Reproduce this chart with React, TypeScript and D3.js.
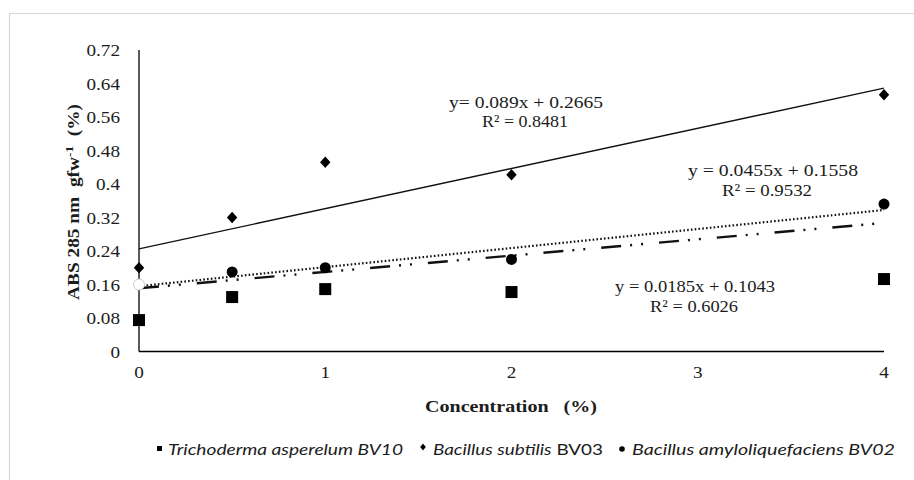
import React from "react";
import * as d3 from "d3";

const concentrations = [0, 0.5, 1, 2, 4];
const trichoderma = [0.075, 0.13, 0.149, 0.142, 0.173];
const subtilis = [0.2, 0.32, 0.452, 0.422, 0.613];
const amylo = [0.16, 0.19, 0.2, 0.22, 0.352];
const yTicks = [0, 0.08, 0.16, 0.24, 0.32, 0.4, 0.48, 0.56, 0.64, 0.72];
const xTicks = [0, 1, 2, 3, 4];
// trend lines as drawn: [value at x=0, value at x=4]
const trendSolid = [0.245, 0.629];
const trendDotted = [0.156, 0.338];
const trendDashDot = [0.151, 0.307];
const eqSubtilis = ["y= 0.089x + 0.2665", "R² = 0.8481"];
const eqAmylo = ["y = 0.0455x + 0.1558", "R² = 0.9532"];
const eqTricho = ["y = 0.0185x + 0.1043", "R² = 0.6026"];

const W = 914;
const H = 480;
const TXT = "#1c1c1c";
const SERIF = "'Liberation Serif', 'Times New Roman', serif";

const diamondPath = (w: number, h: number) =>
  `M0,${-h} L${w},0 L0,${h} L${-w},0Z`;

export default function App() {
  const x = d3.scaleLinear().domain([0, 4]).range([139, 884]);
  const y = d3.scaleLinear().domain([0, 0.72]).range([351.5, 50]);
  const line = d3
    .line<[number, number]>()
    .x((d) => x(d[0]))
    .y((d) => y(d[1]));
  const trend = (t: number[]) => line([[0, t[0]], [4, t[1]]]) || "";

  return (
    <svg
      width={W}
      height={H}
      style={{ position: "absolute", left: 0, top: 0, background: "#fff" }}
    >
      <rect x={9.5} y={13.5} width={W} height={H} fill="#fff" stroke="#d9d9d9" strokeWidth={1.2} />

      {/* axes */}
      <line x1={x(0)} x2={x(0)} y1={y(0.72)} y2={y(0)} stroke="#000" strokeWidth={1.3} />
      <line x1={x(0)} x2={x(4)} y1={y(0)} y2={y(0)} stroke="#000" strokeWidth={1.3} />

      {yTicks.map((t) => (
        <text
          key={t}
          transform={`translate(120,${y(t) + 6}) scale(1.13,1)`}
          textAnchor="end"
          fontFamily={SERIF}
          fontSize={17}
          fill={TXT}
        >
          {String(t)}
        </text>
      ))}
      {xTicks.map((t) => (
        <text
          key={t}
          transform={`translate(${x(t)},${378}) scale(1.13,1)`}
          textAnchor="middle"
          fontFamily={SERIF}
          fontSize={17}
          fill={TXT}
        >
          {String(t)}
        </text>
      ))}

      {/* axis titles */}
      <text
        x={511}
        y={412}
        textAnchor="middle"
        fontFamily={SERIF}
        fontSize={17}
        fontWeight="bold"
        fill={TXT}
        textLength={172}
        lengthAdjust="spacingAndGlyphs"
        style={{ whiteSpace: "pre" }}
      >
        {"Concentration   (%)"}
      </text>
      <text
        transform="translate(79,202) rotate(-90)"
        textAnchor="middle"
        fontFamily={SERIF}
        fontSize={16}
        fontWeight="bold"
        fill={TXT}
        textLength={196}
        lengthAdjust="spacingAndGlyphs"
        style={{ whiteSpace: "pre" }}
      >
        {"ABS 285 nm  gfw"}
        <tspan dy={-6} fontSize={11}>-1</tspan>
        <tspan dy={6}>{"  (%)"}</tspan>
      </text>

      {/* trend lines */}
      <path d={trend(trendSolid)} fill="none" stroke="#111" strokeWidth={1.4} />
      <path d={trend(trendDashDot)} fill="none" stroke="#111" strokeWidth={2.4} strokeDasharray="20 9 2 9 2 16" />
      <path d={trend(trendDotted)} fill="none" stroke="#111" strokeWidth={2.2} strokeDasharray="1.6 2.2" />

      {/* markers */}
      {concentrations.map((c, i) => (
        <rect
          key={"s" + i}
          x={x(c) - 6}
          y={y(trichoderma[i]) - 6}
          width={12}
          height={12}
          fill="#000"
        />
      ))}
      {concentrations.map((c, i) => (
        <path
          key={"d" + i}
          d={diamondPath(5.2, 5.8)}
          transform={`translate(${x(c)},${y(subtilis[i])})`}
          fill="#000"
        />
      ))}
      {concentrations.map((c, i) => (
        <circle
          key={"c" + i}
          cx={x(c)}
          cy={y(amylo[i])}
          r={5.5}
          fill={i === 0 ? "#fff" : "#000"}
          stroke={i === 0 ? "#ccc" : "none"}
        />
      ))}

      {/* equations */}
      {[
        { lines: eqSubtilis, xs: [449, 482], ys: [108, 127], ws: [154, 86] },
        { lines: eqAmylo, xs: [688, 722], ys: [176, 196], ws: [170, 90] },
        { lines: eqTricho, xs: [615, 650], ys: [292, 312], ws: [160, 88] },
      ].map((e, k) =>
        e.lines.map((s, j) => (
          <text
            key={k + "-" + j}
            x={e.xs[j]}
            y={e.ys[j]}
            fontFamily={SERIF}
            fontSize={17}
            fill={TXT}
            textLength={e.ws[j]}
            lengthAdjust="spacingAndGlyphs"
          >
            {s}
          </text>
        ))
      )}

      {/* legend */}
      <g fontFamily="Lato, 'Open Sans', sans-serif" fontSize={15} fill={TXT}>
        <rect x={157} y={446} width={5} height={5} fill="#000" />
        <text x={168} y={455} fontStyle="italic" textLength={235} lengthAdjust="spacingAndGlyphs">
          Trichoderma asperelum BV10
        </text>
        <path d={diamondPath(2.8, 3.6)} transform="translate(423,447)" fill="#000" />
        <text x={433} y={455} textLength={170} lengthAdjust="spacingAndGlyphs">
          <tspan fontStyle="italic">Bacillus subtilis</tspan> BV03
        </text>
        <circle cx={622} cy={449} r={2.8} fill="#000" />
        <text x={632} y={455} fontStyle="italic" textLength={263} lengthAdjust="spacingAndGlyphs">
          Bacillus amyloliquefaciens BV02
        </text>
      </g>
    </svg>
  );
}
